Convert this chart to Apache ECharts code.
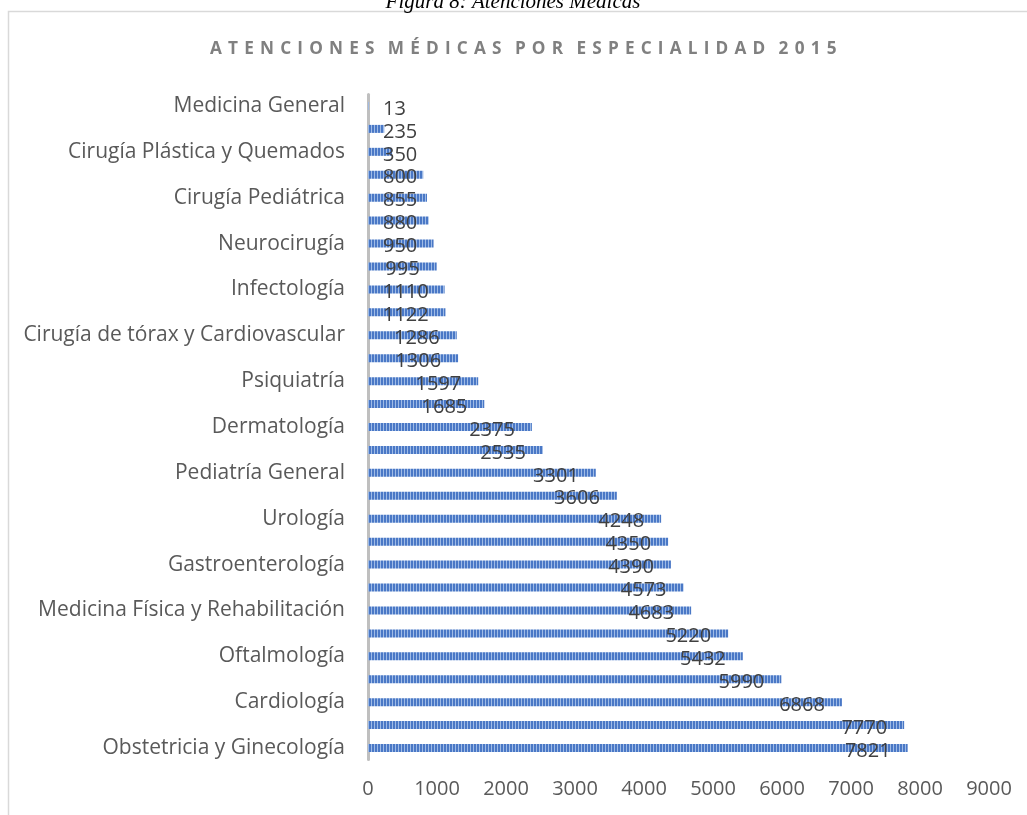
<!DOCTYPE html>
<html>
<head>
<meta charset="utf-8">
<title>Atenciones médicas por especialidad 2015</title>
<script src="https://cdn.jsdelivr.net/npm/echarts@6/dist/echarts.min.js"></script>
<style>
  html, body { margin: 0; padding: 0; background: #fff; }
  #chart { width: 1027px; height: 815px; }
</style>
</head>
<body>
<div id="chart"></div>
<script>
// categorias de arriba hacia abajo (solo se ven las pares)
const especialidades = [
  'Medicina General', 'Nutrición', 'Cirugía Plástica y Quemados', 'Geriatría',
  'Cirugía Pediátrica', 'Hematología', 'Neurocirugía', 'Reumatología',
  'Infectología', 'Endocrinología', 'Cirugía de tórax y Cardiovascular', 'Nefrología',
  'Psiquiatría', 'Neumología', 'Dermatología', 'Oncología',
  'Pediatría General', 'Neurología', 'Urología', 'Otorrinolaringología',
  'Gastroenterología', 'Medicina Interna', 'Medicina Física y Rehabilitación', 'Cirugía General',
  'Oftalmología', 'Traumatología', 'Cardiología', 'Odontología',
  'Obstetricia y Ginecología'
]
const atenciones = [
  13, 235, 350, 800, 855, 880, 950, 995, 1110, 1122, 1286, 1306, 1597, 1685,
  2375, 2535, 3301, 3606, 4248, 4350, 4390, 4573, 4683, 5220, 5432, 5990,
  6868, 7770, 7821
]
const ejeX = { min: 0, max: 9000, interval: 1000 }
const titulo = 'ATENCIONES MÉDICAS POR ESPECIALIDAD 2015'
const leyenda = 'Figura 8: Atenciones Médicas'

// textura de rayas verticales de las barras
function rayas() {
  const c = document.createElement('canvas')
  c.width = 3
  c.height = 8
  const ctx = c.getContext('2d')
  ctx.fillStyle = '#4a78c6'
  ctx.fillRect(0, 0, 3, 8)
  ctx.fillStyle = '#9fbbe6'
  ctx.fillRect(2, 0, 1, 8)
  return c
}

// espaciado de letras del titulo
function espaciar(txt) {
  return txt.split(' ').map(w => w.split('').join(' \u200A')).join('   ')
}

const chart = echarts.init(document.getElementById('chart'))
const option = {
  animation: false,
  textStyle: { fontFamily: 'Open Sans' },
  title: {
    text: espaciar(titulo),
    left: 205,
    top: 36,
    textStyle: {
      fontFamily: 'Open Sans',
      fontSize: 17.2,
      fontWeight: 'bold',
      color: '#808080'
    }
  },
  graphic: [
    {
      type: 'rect',
      shape: { x: 8.5, y: 11.5, width: 1040, height: 820 },
      style: { fill: null, stroke: '#d9d9d9', lineWidth: 1.5 },
      silent: true
    },
    {
      type: 'text',
      x: 513,
      y: 13,
      style: {
        text: leyenda,
        font: 'italic 21px "Liberation Serif"',
        fill: '#000',
        align: 'center',
        verticalAlign: 'bottom'
      },
      silent: true
    }
  ],
  grid: {
    left: 368,
    right: 38,
    top: 94.5,
    bottom: 55.5
  },
  xAxis: {
    type: 'value',
    min: ejeX.min,
    max: ejeX.max,
    interval: ejeX.interval,
    axisLine: { show: false },
    axisTick: { show: false },
    splitLine: { show: false },
    axisLabel: {
      color: '#595959',
      fontSize: 20,
      margin: 20,
      formatter: v => String(v)
    }
  },
  yAxis: {
    type: 'category',
    inverse: true,
    data: especialidades,
    axisLine: { lineStyle: { color: '#bfbfbf', width: 3 } },
    axisTick: { show: false },
    axisLabel: {
      interval: 1,
      color: '#595959',
      fontSize: 21,
      margin: 23
    }
  },
  series: [
    {
      type: 'bar',
      data: atenciones,
      barWidth: 8,
      itemStyle: {
        color: { image: rayas(), repeat: 'repeat' }
      },
      label: {
        show: true,
        position: 'insideRight',
        align: 'left',
        verticalAlign: 'middle',
        color: '#404040',
        fontSize: 20,
        formatter: p => String(p.value)
      },
      // etiqueta dentro del extremo, pero nunca antes del eje
      labelLayout: function (params) {
        const r = params.rect
        const w = params.labelRect.width
        return {
          x: Math.max(383, r.x + r.width - 17 - w),
          y: r.y + r.height / 2 + 3
        }
      }
    }
  ]
}
chart.setOption(option)
window.addEventListener('resize', () => chart.resize())
</script>
</body>
</html>
